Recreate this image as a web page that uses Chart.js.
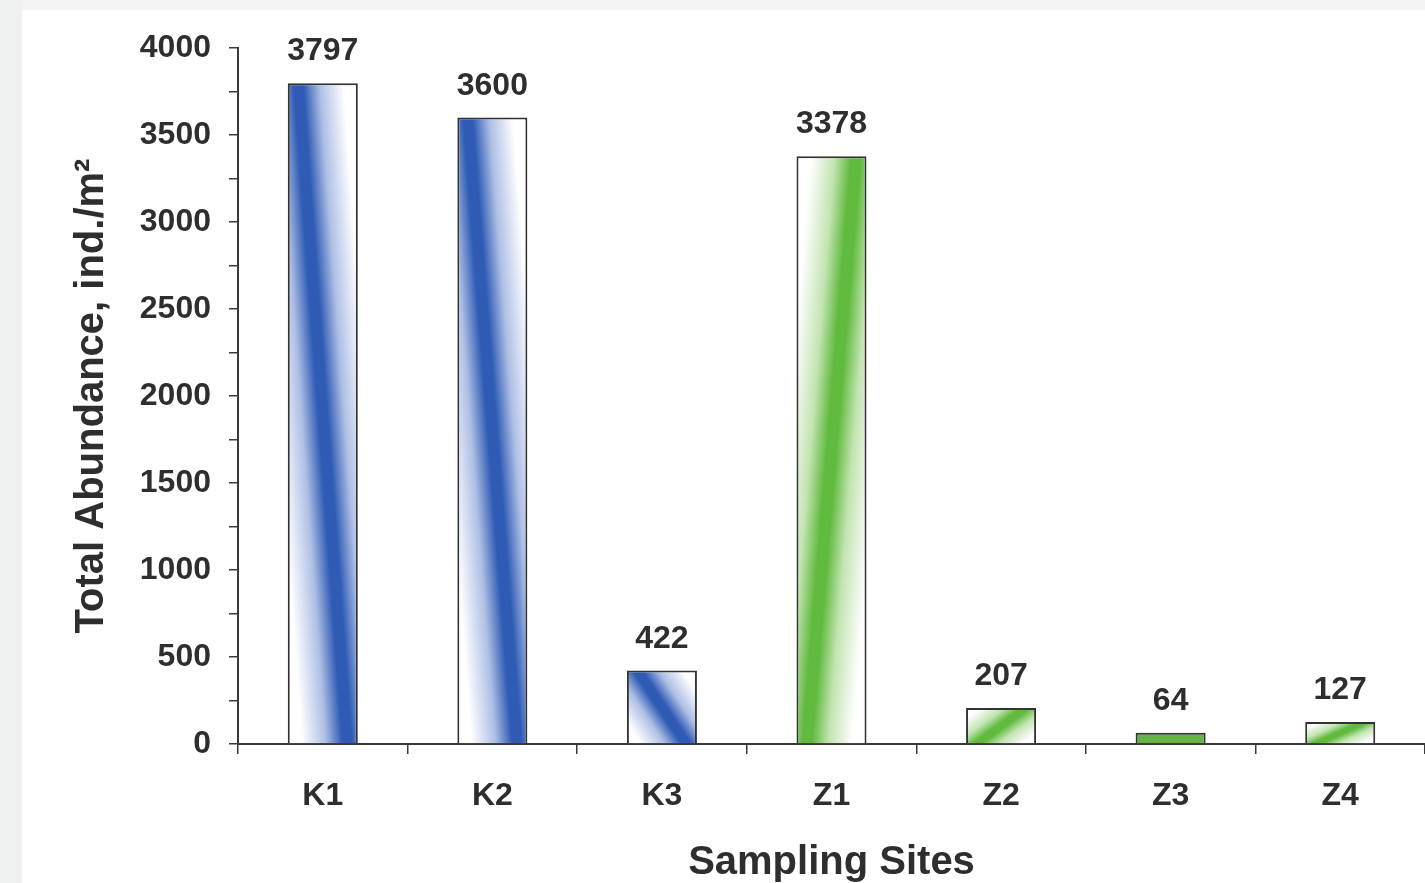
<!DOCTYPE html>
<html>
<head>
<meta charset="utf-8">
<title>Total Abundance by Sampling Site</title>
<script src="https://cdn.jsdelivr.net/npm/chart.js@4.4.1/dist/chart.umd.min.js"></script>
<style>
  html, body { margin: 0; padding: 0; background: #fff; overflow: hidden; }
  #frame { position: relative; width: 1425px; height: 883px; background: #fff; }
  #frame .edge-top { position: absolute; left: 0; top: 0; width: 1425px; height: 10px; background: #f3f5f5; }
  #frame .edge-left { position: absolute; left: 0; top: 0; width: 22px; height: 883px; background: #eef1f0; }
  #chart { position: absolute; left: 0; top: 0; }
</style>
</head>
<body>
<div id="frame">
  <div class="edge-top"></div>
  <div class="edge-left"></div>
  <canvas id="chart" width="1425" height="883"></canvas>
</div>
<script>
// Sampling sites and total abundance (individuals per square metre)
const sites = ['K1', 'K2', 'K3', 'Z1', 'Z2', 'Z3', 'Z4'];
const abundance = [3797, 3600, 422, 3378, 207, 64, 127];

// Value axis range and label spacing
const yMin = 0;
const yMax = 4000;
const yLabelStep = 500;
const yMinorStep = 250;

const FONT = '"Liberation Sans", Arial, Helvetica, sans-serif';
const TEXT = '#2e2e2e';
const AXIS = '#3a3a3a';
const BAR_FRACTION = 0.413;
const BAND_INSET = 0.15;

const palette = {
  K: {
    solid: '#2f5bb5',
    stops: [[0, '#ffffff'], [0.12, '#ffffff'], [0.32, '#aebfe5'], [0.46, '#2f5bb5'], [0.54, '#2f5bb5'], [0.68, '#aebfe5'], [0.88, '#ffffff'], [1, '#ffffff']]
  },
  Z: {
    solid: '#66b346',
    stops: [[0, '#ffffff'], [0.12, '#ffffff'], [0.32, '#c3e4b2'], [0.46, '#60ba3e'], [0.54, '#60ba3e'], [0.68, '#c3e4b2'], [0.88, '#ffffff'], [1, '#ffffff']]
  }
};

// Diagonal band gradient: white -> colour -> white, the band running corner to corner.
// K bars fall from top-left to bottom-right, Z bars rise from bottom-left to top-right.
function bandGradient(c2d, left, top, w, h, rising, stops) {
  const s = BAND_INSET, k = 2 * (1 - s);
  const ax = (rising ? -1 : 1) / (w * k);
  const ay = -(1 - 2 * s) / (h * k);
  const n2 = ax * ax + ay * ay;
  const x0 = rising ? left + w : left;
  const y0 = top + h;
  const g = c2d.createLinearGradient(x0, y0, x0 + ax / n2, y0 + ay / n2);
  stops.forEach(([o, c]) => g.addColorStop(o, c));
  return g;
}

function barFill(ctx) {
  const chart = ctx.chart;
  const xs = chart.scales.x, ys = chart.scales.y;
  const i = ctx.dataIndex;
  const group = (i !== undefined && sites[i]) ? palette[sites[i][0]] : palette.K;
  if (!xs || !ys || i === undefined || !(xs.width > 0) || !(ys.height > 0)) return group.solid;
  const value = chart.data.datasets[0].data[i];
  const w = (xs.width / sites.length) * BAR_FRACTION;
  const left = xs.getPixelForValue(i) - w / 2;
  const top = ys.getPixelForValue(value);
  const h = ys.getPixelForValue(0) - top;
  if (![w, left, top, h].every(Number.isFinite) || h < 20) return group.solid;
  return bandGradient(chart.ctx, left, top, w, h, sites[i][0] === 'Z', group.stops);
}

// Writes each bar's value above it
const valueLabels = {
  id: 'valueLabels',
  afterDatasetsDraw(chart) {
    const c = chart.ctx;
    const data = chart.data.datasets[0].data;
    c.save();
    c.font = 'bold 32px ' + FONT;
    c.fillStyle = TEXT;
    c.textAlign = 'center';
    c.textBaseline = 'alphabetic';
    chart.getDatasetMeta(0).data.forEach((bar, i) => {
      c.fillText(String(data[i]), bar.x, bar.y - 23);
    });
    c.restore();
  }
};

new Chart(document.getElementById('chart'), {
  type: 'bar',
  data: {
    labels: sites,
    datasets: [{
      data: abundance,
      backgroundColor: barFill,
      borderColor: '#333333',
      borderWidth: 2,
      categoryPercentage: 1,
      barPercentage: BAR_FRACTION
    }]
  },
  options: {
    responsive: false,
    devicePixelRatio: 1,
    animation: false,
    events: [],
    layout: { padding: { top: 48, right: 0, bottom: 0, left: 0 } },
    plugins: { legend: { display: false }, tooltip: { enabled: false } },
    scales: {
      x: {
        type: 'category',
        offset: true,
        grid: { offset: true, drawOnChartArea: false, drawTicks: true, tickLength: 10, color: AXIS, lineWidth: 1.5 },
        border: { display: true, color: AXIS, width: 2 },
        ticks: { color: TEXT, font: { family: FONT, size: 32, weight: 'bold' }, padding: 23, maxRotation: 0, autoSkip: false },
        title: { display: true, text: 'Sampling Sites', color: TEXT, font: { family: FONT, size: 40, weight: 'bold', lineHeight: 1 }, padding: { top: 0, bottom: 0 } },
        afterFit(scale) { scale.height = 139; }
      },
      y: {
        min: yMin,
        max: yMax,
        grid: { drawOnChartArea: false, drawTicks: true, tickLength: 9, color: AXIS, lineWidth: 1.5 },
        border: { display: true, color: AXIS, width: 2 },
        ticks: {
          stepSize: yMinorStep,
          autoSkip: false,
          color: TEXT,
          padding: 18,
          font: { family: FONT, size: 32, weight: 'bold' },
          callback: v => (v % yLabelStep === 0 ? v : '')
        },
        title: { display: true, text: 'Total Abundance, ind./m\u00B2', color: TEXT, font: { family: FONT, size: 40, weight: 'bold', lineHeight: 1 }, padding: { top: 72, bottom: 0 } },
        afterFit(scale) { scale.width = 238; }
      }
    }
  },
  plugins: [valueLabels]
});
</script>
</body>
</html>
